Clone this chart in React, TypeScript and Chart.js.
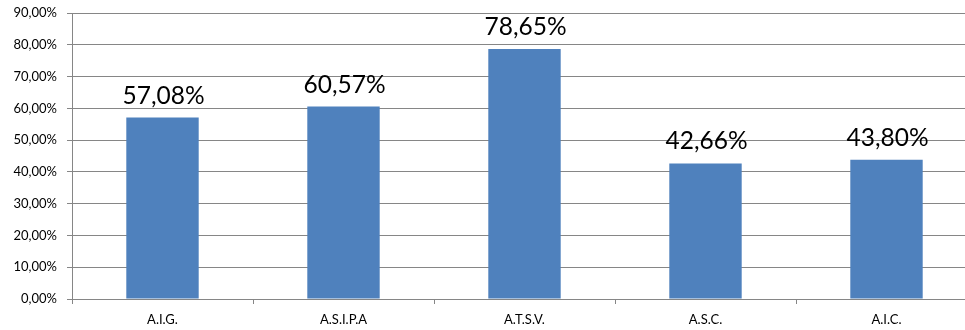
import React, { useEffect, useRef } from "react";
import { Chart, registerables } from "chart.js";

Chart.register(...registerables);

const categories = ["A.I.G.", "A.S.I.P.A", "A.T.S.V.", "A.S.C.", "A.I.C."];
const values = [57.08, 60.57, 78.65, 42.66, 43.8];
const yMax = 90;
const yStep = 10;

const fmt = (v: number) => v.toFixed(2).replace(".", ",") + "%";

const FONT = "Lato, 'Open Sans', sans-serif";

const labelPlugin = {
  id: "barLabels",
  afterDatasetsDraw(chart: any) {
    const ctx = chart.ctx;
    const meta = chart.getDatasetMeta(0);
    ctx.save();
    ctx.font = `24.5px ${FONT}`;
    ctx.fillStyle = "#000";
    ctx.textAlign = "center";
    ctx.textBaseline = "alphabetic";
    meta.data.forEach((bar: any, i: number) => {
      ctx.fillText(fmt(values[i]), bar.x + 1, bar.y - 14);
    });
    ctx.restore();
  },
};

export default function App() {
  const ref = useRef<HTMLCanvasElement>(null);
  useEffect(() => {
    document.body.style.margin = "0";
    document.body.style.overflow = "hidden";
    const chart = new Chart(ref.current!, {
      type: "bar",
      data: {
        labels: categories,
        datasets: [
          {
            data: values,
            backgroundColor: "#4F81BD",
            borderWidth: 0,
            categoryPercentage: 1,
            barPercentage: 0.4,
          },
        ],
      },
      options: {
        animation: false,
        responsive: false,
        maintainAspectRatio: false,
        layout: { padding: { top: 13, right: 0, left: 0, bottom: 0 } },
        plugins: { legend: { display: false }, tooltip: { enabled: false } },
        scales: {
          x: {
            offset: true,
            grid: {
              offset: true,
              drawOnChartArea: false,
              drawTicks: true,
              tickLength: 5,
              color: "#868686",
            },
            border: { color: "#868686", width: 1 },
            ticks: {
              color: "#000",
              padding: 8,
              font: { family: FONT, size: 13 },
              maxRotation: 0,
            },
            afterFit: (s: any) => {
              s.height = 31;
              s.paddingLeft = 0;
              s.paddingRight = 0;
            },
          },
          y: {
            min: 0,
            max: yMax,
            ticks: {
              stepSize: yStep,
              color: "#000",
              padding: 10,
              font: { family: FONT, size: 13 },
              callback: (v: any) => fmt(Number(v)),
            },
            grid: { color: "#868686", tickLength: 5, lineWidth: 1 },
            border: { color: "#868686", width: 1 },
            afterFit: (s: any) => {
              s.width = 72;
              s.paddingTop = 0;
              s.paddingBottom = 0;
            },
          },
        },
      },
      plugins: [labelPlugin],
    });
    return () => chart.destroy();
  }, []);
  return (
    <div style={{ position: "fixed", left: 0, top: 0, width: 965, height: 330, overflow: "hidden", background: "#fff" }}>
      <canvas ref={ref} width={977} height={330} style={{ display: "block", width: 977, height: 330 }} />
    </div>
  );
}
